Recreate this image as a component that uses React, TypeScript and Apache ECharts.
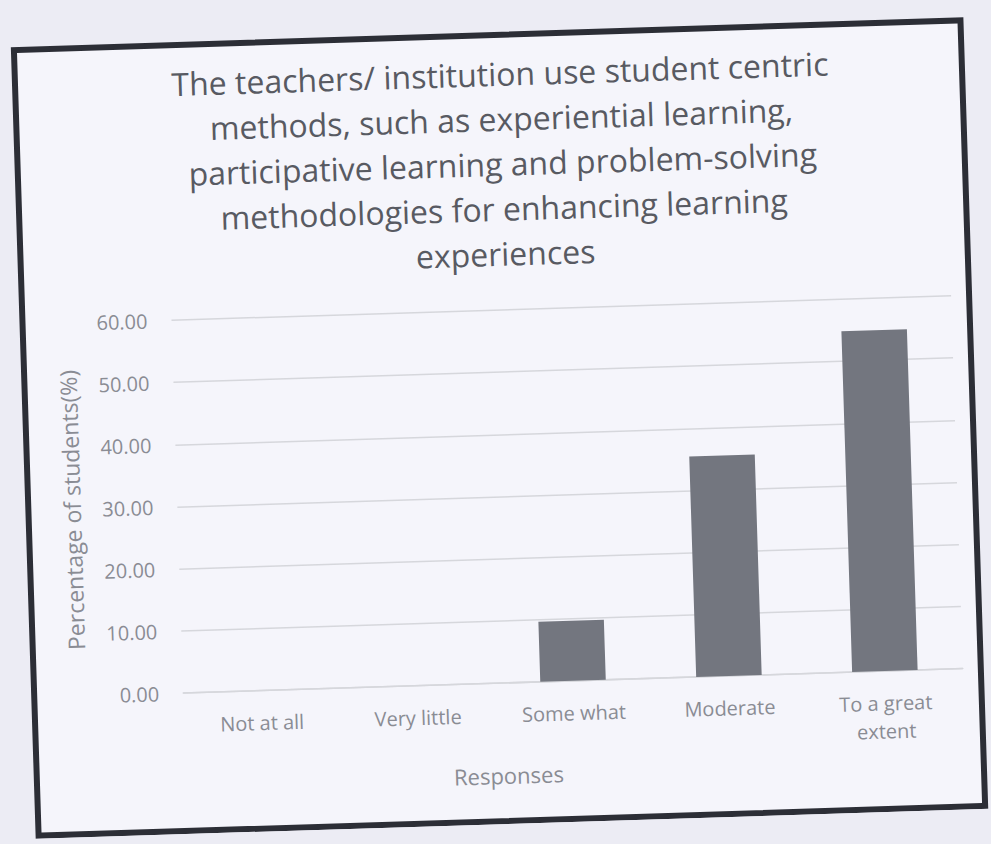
import React, { useEffect, useRef } from 'react';
import * as echarts from 'echarts';

const titleLines = [
  'The teachers/ institution use student centric',
  'methods, such as experiential learning,',
  'participative learning and problem-solving',
  'methodologies for enhancing learning',
  'experiences',
];
const categories = ['Not at all', 'Very little', 'Some what', 'Moderate', 'To a great\nextent'];
const percentages = [0, 0, 9.68, 35.48, 54.84];
const yAxisTitle = 'Percentage of students(%)';
const xAxisTitle = 'Responses';

const FONT = '"Open Sans", "Noto Sans", sans-serif';

export default function App() {
  const ref = useRef<HTMLDivElement>(null);
  useEffect(() => {
    const chart = echarts.init(ref.current!, null, { renderer: 'svg' });
    chart.setOption({
      animation: false,
      title: {
        text: titleLines.join('\n'),
        left: 486,
        top: 16,
        textAlign: 'center',
        textStyle: {
          fontFamily: FONT,
          fontSize: 32,
          lineHeight: 45,
          fontWeight: 'normal',
          color: '#585a62',
        },
      },
      grid: { left: 155, right: 25, top: 280, bottom: 141 },
      xAxis: {
        type: 'category',
        data: categories,
        axisLine: { show: true, lineStyle: { color: '#d6d7dc', width: 1.5 } },
        axisTick: { show: false },
        axisLabel: {
          interval: 0,
          color: '#8a8c94',
          fontFamily: FONT,
          fontSize: 20,
          lineHeight: 28,
          margin: 18,
        },
      },
      yAxis: {
        type: 'value',
        min: 0,
        max: 60,
        interval: 10,
        axisLine: { show: false },
        axisTick: { show: false },
        axisLabel: {
          color: '#8a8c94',
          fontFamily: FONT,
          fontSize: 20,
          margin: 24,
          formatter: (v: number) => v.toFixed(2),
        },
        splitLine: { lineStyle: { color: '#d6d7dc', width: 1.5 } },
        name: yAxisTitle,
        nameLocation: 'middle',
        nameGap: 94,
        nameTextStyle: { fontFamily: FONT, fontSize: 23, color: '#8a8c94' },
      },
      series: [
        {
          type: 'bar',
          data: percentages,
          barWidth: '42%',
          itemStyle: { color: '#73767f' },
        },
      ],
      graphic: [
        {
          type: 'rect',
          z: -10,
          silent: true,
          shape: { x: 6, y: 5, width: 947, height: 786 },
          style: { fill: '#f5f5fb', stroke: '#2c2e36', lineWidth: 6 },
        },
        {
          type: 'text',
          x: 478,
          y: 745,
          silent: true,
          style: {
            text: xAxisTitle,
            align: 'center',
            verticalAlign: 'middle',
            fontFamily: FONT,
            fontSize: 22,
            fill: '#8a8c94',
          },
        },
      ],
    });
    return () => chart.dispose();
  }, []);
  return (
    <div
      style={{
        position: 'fixed',
        left: 0,
        top: 0,
        width: 991,
        height: 844,
        background: '#ececf4',
        overflow: 'hidden',
      }}
    >
      <div
        ref={ref}
        style={{
          position: 'absolute',
          left: 20,
          top: 30,
          width: 960,
          height: 794,
          transform: 'rotate(-1.8deg)',
        }}
      />
    </div>
  );
}
